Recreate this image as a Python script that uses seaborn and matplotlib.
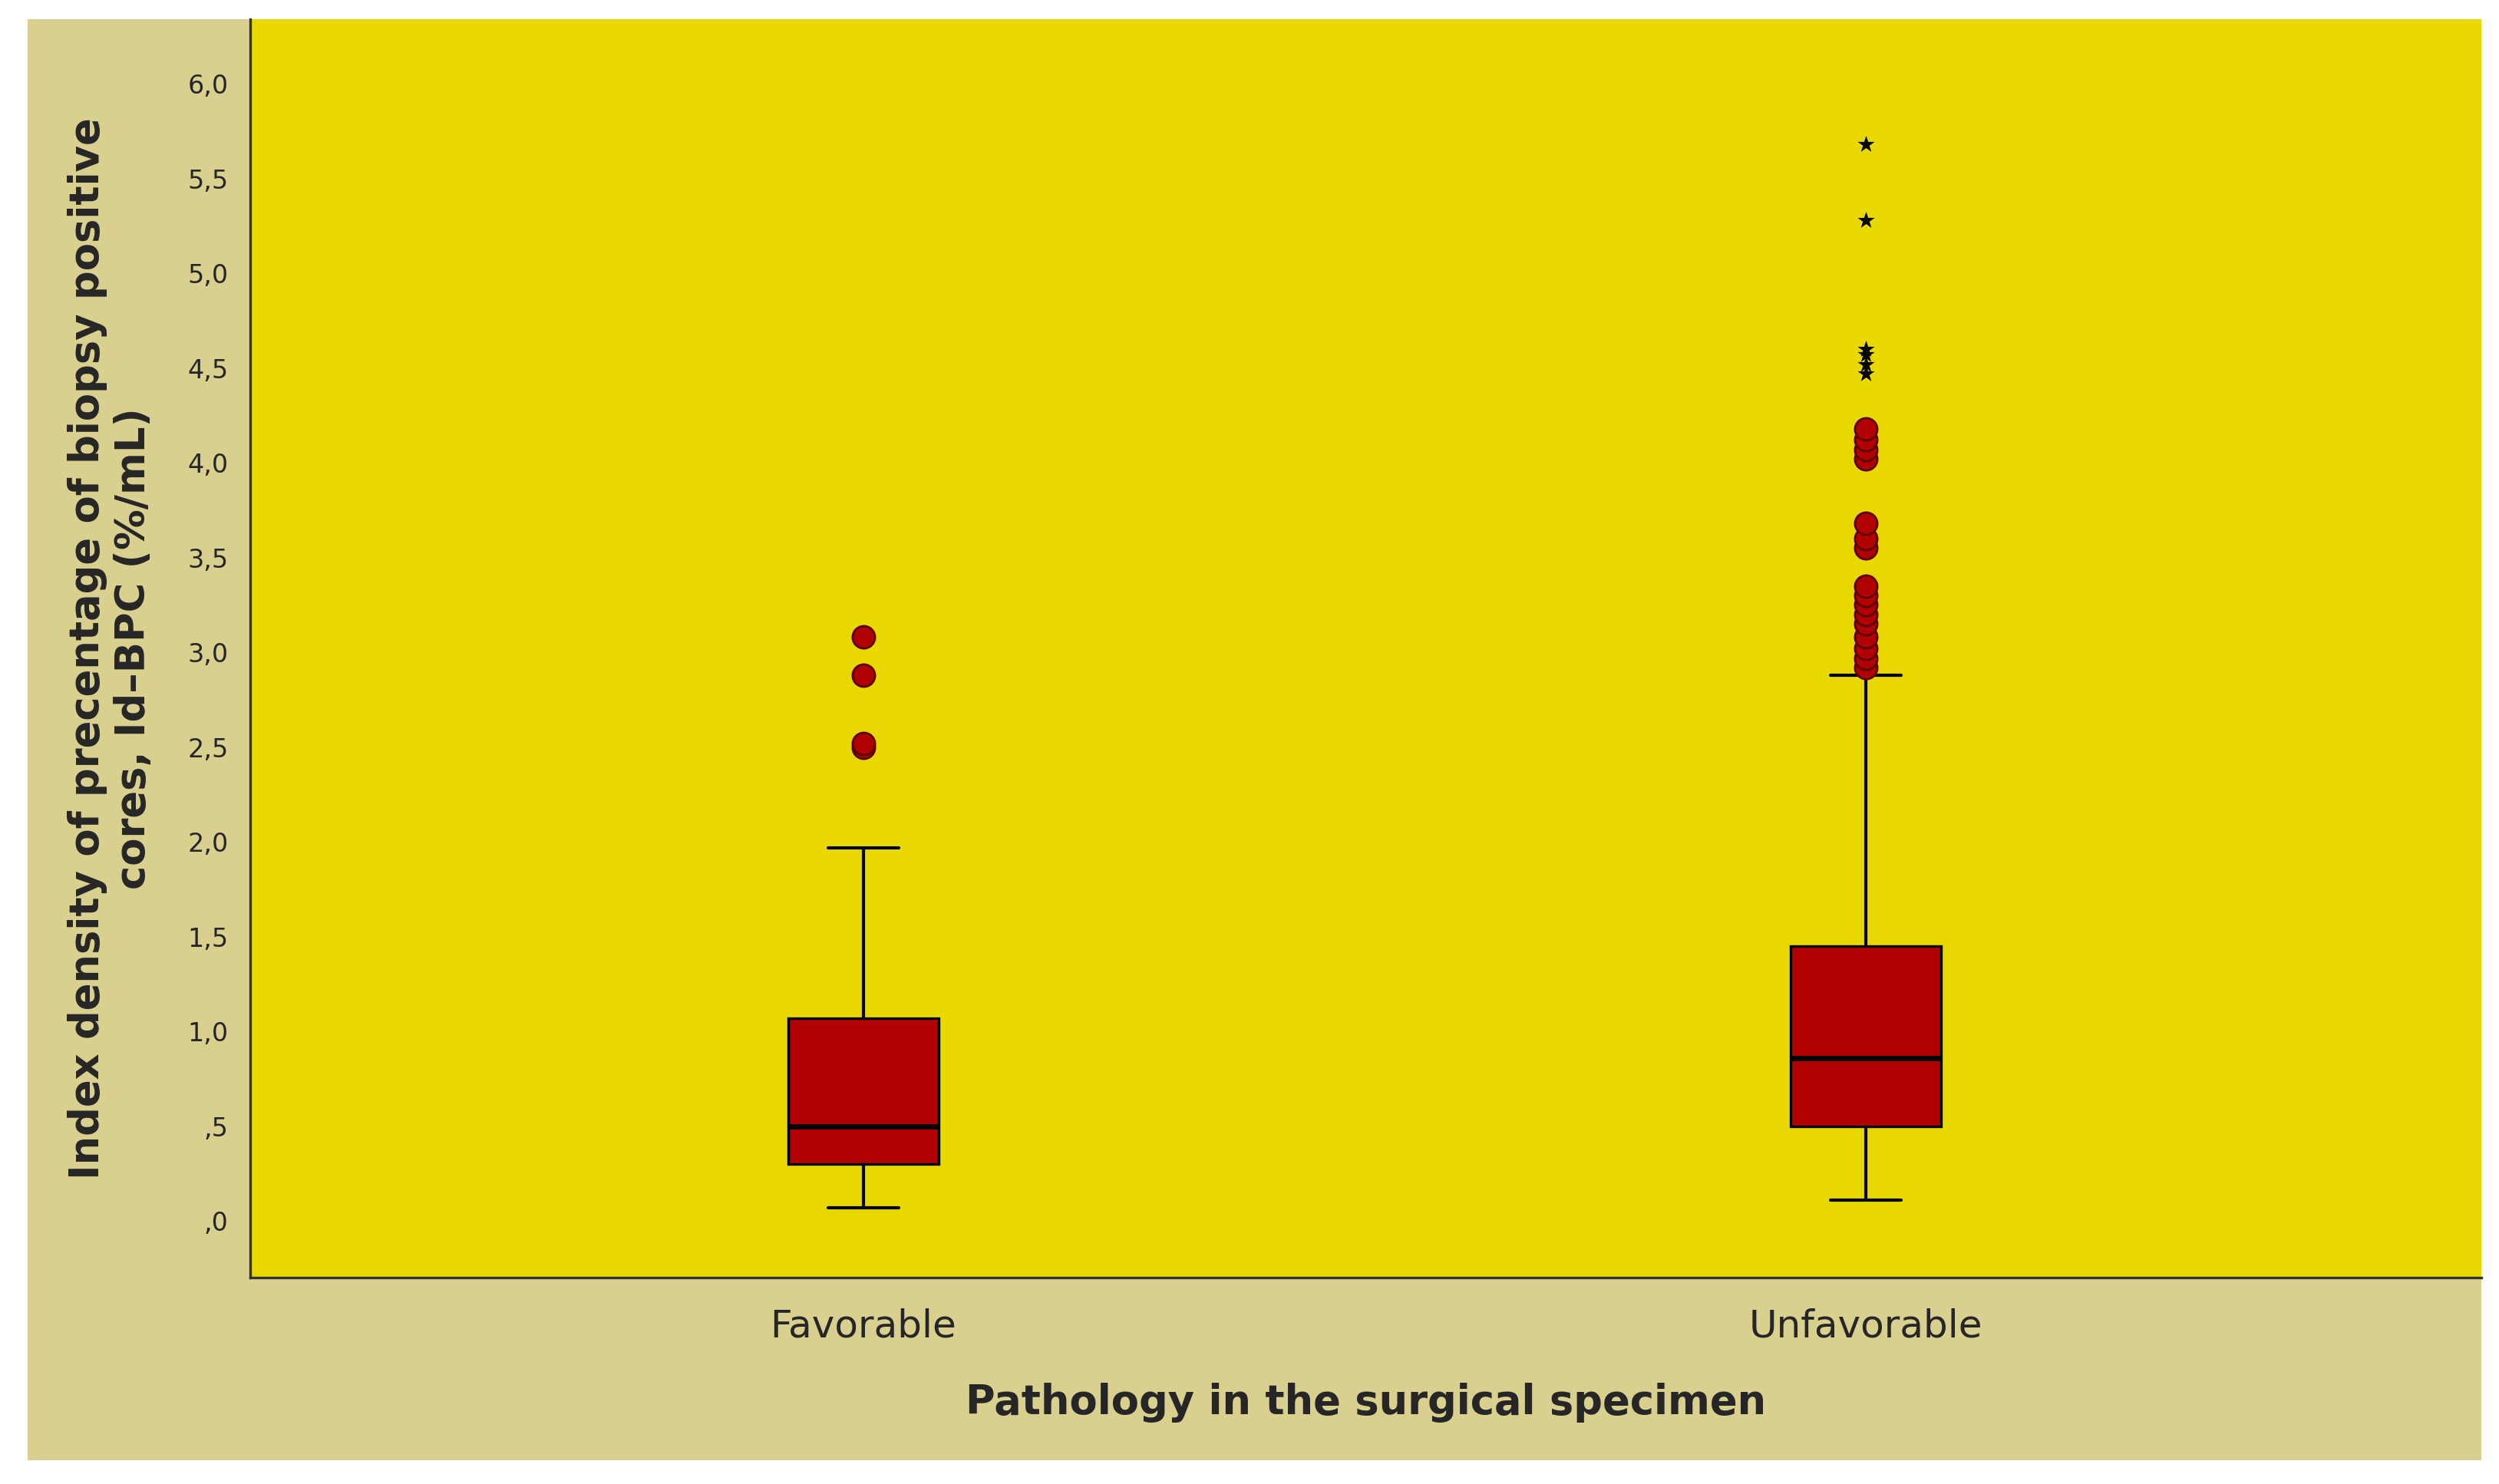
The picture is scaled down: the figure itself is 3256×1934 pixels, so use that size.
import matplotlib
matplotlib.use("Agg")
import matplotlib.pyplot as plt
import seaborn as sns
import pandas as pd
from matplotlib.ticker import FuncFormatter
from matplotlib.patches import Rectangle

categories = ["Favorable", "Unfavorable"]
whisker_low = [0.07, 0.11]
q1 = [0.30, 0.50]
median = [0.50, 0.86]
q3 = [1.07, 1.45]
whisker_high = [1.97, 2.88]
fav_outliers = [2.50, 2.52, 2.88, 3.08]
unf_outliers = [2.92, 2.97, 3.02, 3.08, 3.15, 3.20, 3.25, 3.30, 3.35,
                3.55, 3.60, 3.68, 4.02, 4.07, 4.12, 4.18]
unf_extremes = [4.47, 4.52, 4.57, 4.60, 5.28, 5.68]

sns.set_theme(style="white")
fig = plt.figure(figsize=(16.28, 9.67), dpi=200, facecolor="white")
fig.patches.append(Rectangle((0.011, 0.016), 0.982, 0.971, transform=fig.transFigure,
                             facecolor="#D9CF8F", edgecolor="none", zorder=-10))
ax = fig.add_axes([0.100, 0.139, 0.893, 0.848])
ax.set_zorder(1)
ax.set_facecolor("#E8D800")

stats = [dict(whislo=whisker_low[i], q1=q1[i], med=median[i], q3=q3[i],
              whishi=whisker_high[i], fliers=[], label=categories[i]) for i in range(2)]
ax.bxp(stats, positions=[0, 1], widths=0.15, patch_artist=True, showfliers=False,
       boxprops=dict(facecolor="#B00000", edgecolor="black", linewidth=1.2),
       medianprops=dict(color="black", linewidth=2.5),
       whiskerprops=dict(color="black", linewidth=1.5),
       capprops=dict(color="black", linewidth=1.5), capwidths=0.07)

df_out = pd.DataFrame({"x": [0]*len(fav_outliers) + [1]*len(unf_outliers),
                       "y": fav_outliers + unf_outliers})
sns.scatterplot(data=df_out, x="x", y="y", ax=ax, s=110, color="#B00000",
                edgecolor="#5a0000", linewidth=1, marker="o", zorder=5)
df_ext = pd.DataFrame({"x": [1]*len(unf_extremes), "y": unf_extremes})
sns.scatterplot(data=df_ext, x="x", y="y", ax=ax, s=70, color="black",
                marker="*", linewidth=0, zorder=5)

ax.set_xlim(-0.612, 1.614)
ax.set_ylim(-0.30, 6.34)
ax.set_xticks([0, 1])
ax.set_xticklabels(categories, fontsize=18)
ax.set_yticks([i * 0.5 for i in range(13)])
ax.yaxis.set_major_formatter(FuncFormatter(
    lambda v, p: (f"{v:.1f}".replace(".", ",")).lstrip("0") if v < 1 else f"{v:.1f}".replace(".", ",")))
ax.tick_params(axis="y", labelsize=12, length=0, pad=10)
ax.tick_params(axis="x", length=0, pad=14)
for s in ["top", "right"]:
    ax.spines[s].set_visible(False)
for s in ["left", "bottom"]:
    ax.spines[s].set_color("#333333")
    ax.spines[s].set_linewidth(1.2)
ax.set_xlabel("Pathology in the surgical specimen", fontsize=19, fontweight="bold", labelpad=18)
ax.set_ylabel("Index density of precentage of biopsy positive\ncores, Id\u2013BPC (%/mL)",
              fontsize=19, fontweight="bold", labelpad=16)
fig.savefig("out.png", dpi=200, facecolor="white")
